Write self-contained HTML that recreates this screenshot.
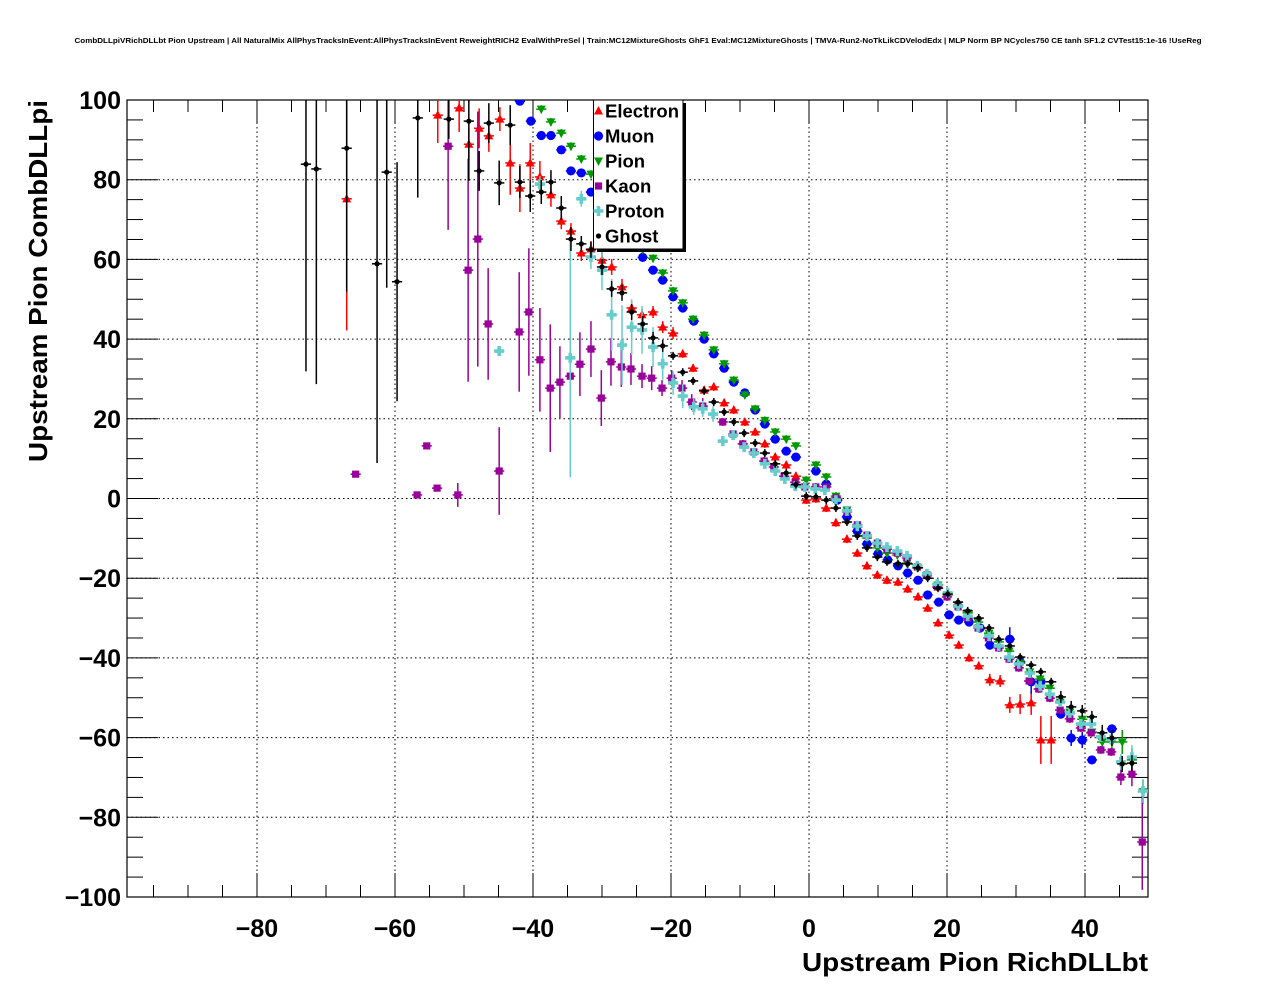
<!DOCTYPE html>
<html><head><meta charset="utf-8"><style>
html,body{margin:0;padding:0;background:#fff;}
svg{display:block;font-family:"Liberation Sans",Arial,sans-serif;}
</style></head><body>
<svg id="chart" width="1276" height="996" viewBox="0 0 1276 996" xmlns="http://www.w3.org/2000/svg">
<rect x="0" y="0" width="1276" height="996" fill="#fff"/>
<text x="638" y="43" text-anchor="middle" font-size="7.5" font-weight="bold" textLength="1127" lengthAdjust="spacingAndGlyphs">CombDLLpiVRichDLLbt Pion Upstream | All NaturalMix AllPhysTracksInEvent:AllPhysTracksInEvent ReweightRICH2 EvalWithPreSel | Train:MC12MixtureGhosts GhF1 Eval:MC12MixtureGhosts | TMVA-Run2-NoTkLikCDVelodEdx | MLP Norm BP NCycles750 CE tanh SF1.2 CVTest15:1e-16 !UseReg</text>
<defs><clipPath id="pc"><rect x="127" y="100" width="1021" height="797"/></clipPath></defs>
<g id="grid"></g>
<g id="axes"></g>
<g id="marks" clip-path="url(#pc)"></g>
<g id="legend"></g>
<text x="1148" y="971" text-anchor="end" font-size="26" font-weight="bold" textLength="346" lengthAdjust="spacingAndGlyphs">Upstream Pion RichDLLbt</text>
<text transform="translate(47,462) rotate(-90)" x="0" y="0" text-anchor="start" font-size="26" font-weight="bold" textLength="362" lengthAdjust="spacingAndGlyphs">Upstream Pion CombDLLpi</text>
</svg>
<script>
const xTicks = [-80,-60,-40,-20,0,20,40];
const yTicks = [-100,-80,-60,-40,-20,0,20,40,60,80,100];
const seriesNames = ["Electron","Muon","Pion","Kaon","Proton","Ghost"];
const elecX = [-67.0,-53.8,-50.7,-49.3,-47.8,-46.4,-44.8,-43.3,-41.9,-40.4,-39.0,-37.4,-35.9,-34.5,-33.0,-31.6,-30.0,-28.6,-27.1,-25.7,-24.2,-22.6,-21.2,-19.7,-18.3,-16.8,-15.2,-13.8,-12.3,-10.9,-9.3,-7.8,-6.4,-4.9,-3.3,-1.9,-0.4,1.0,2.5,3.9,5.5,7.0,8.4,9.9,11.3,12.9,14.3,15.8,17.2,18.7,20.3,21.7,23.2,24.6,26.2,27.7,29.1,30.6,32.2,33.6,35.1];
const elecY = [75.2,96.2,98.0,88.9,92.9,91.0,95.2,84.2,77.9,84.2,80.7,76.2,69.6,67.1,61.6,62.6,59.8,58.1,53.1,47.8,46.1,46.8,43.0,41.5,36.3,32.7,27.2,28.0,24.0,22.2,19.2,16.7,13.7,10.4,8.4,5.6,-0.4,-0.1,-2.4,-6.1,-10.2,-13.7,-16.9,-19.2,-20.5,-21.0,-22.7,-24.7,-27.5,-31.2,-34.3,-36.8,-40.0,-42.0,-45.5,-45.8,-51.8,-51.6,-51.3,-60.6,-60.6];
const elecE = [33,7,6,4,5,4,3,8,6,5,4,3,2,2,2,2,2,2,2,2,1.5,1.5,1.5,1.5,1,1,1,1,1,1,1,1,1,1,1,1,1,1,1,1,1,1,1,1,1,1,1,1,1,1,1,1,1,1,1.5,1.5,2,2.5,3,6,6];
const muonX = [-41.9,-40.3,-38.8,-37.4,-35.9,-34.5,-33.0,-31.6,-30.1,-28.6,-27.1,-25.7,-24.1,-22.6,-21.2,-19.7,-18.3,-16.7,-15.2,-13.8,-12.3,-10.9,-9.3,-7.8,-6.4,-4.9,-3.3,-1.9,1.0,2.5,4.1,5.5,7.0,8.4,10.0,11.4,12.9,14.3,15.8,17.2,18.8,20.3,21.7,23.2,24.8,26.2,29.1,30.6,32.2,33.6,36.5,38.0,39.6,41.0,43.9];
const muonY = [99.7,94.7,91.1,91.1,87.5,82.2,81.7,76.9,73.6,70,67,64,60.5,57.3,54.8,50.6,47.8,44.5,40.0,36.3,32.7,29.2,26.5,22.2,18.7,14.9,11.9,10.4,6.9,3.6,-0.4,-4.6,-8.2,-11.4,-13.9,-15.4,-16.9,-18.7,-20.5,-24.2,-26.0,-29.2,-30.5,-31.0,-32.5,-36.8,-35.3,-41.0,-46.0,-46.0,-54.1,-60.1,-60.6,-65.6,-57.8];
const muonE = [1,1,1,1,1,1,1,1,1,1,1,1,1,1,1,1,1,1,1,1,1,1,1,1,1,1,1,1,1,1,1,1,1,1,1,1,1,1,1,1,1,1,1,1,1,1,3,1,3,2,1,2,2,1,1];
const pionX = [-38.8,-37.4,-35.9,-34.5,-33.0,-31.6,-30.1,-28.6,-27.1,-25.7,-24.1,-22.6,-21.2,-19.7,-18.3,-16.8,-15.2,-13.8,-12.3,-10.9,-9.3,-7.8,-6.4,-4.9,-3.3,-1.9,-0.4,1.0,2.5,3.9,5.5,7.0,8.4,9.9,11.3,12.8,14.2,15.7,17.1,18.7,20.1,21.6,23.0,24.5,26.1,27.5,29.0,30.6,32.0,33.5,34.9,36.4,37.8,39.6,41.0,42.5,43.9,45.4,46.8,48.4];
const pionY = [97.7,94.5,91.7,88.4,85.2,81.4,77,73,69,65.5,62.5,60.3,56.6,52.1,49.1,45,41.0,37.3,33.8,29.7,26,22.5,19.6,16.7,14.9,13.2,4.6,8.4,5.4,0.6,-2.9,-7.2,-9.9,-12.4,-13.7,-14.2,-16.2,-17.4,-19.4,-21.7,-24.2,-26.7,-28.7,-31.0,-33.8,-36.0,-38.3,-41.3,-43.5,-45.3,-47.6,-51.1,-53.6,-55.4,-58.6,-61.1,-61.1,-61.1,-65.6,-73.6];
const pionE = [1,1,1,1,1,1,1,1,1,1,1,1,1,1,1,1,1,1,1,1,1,1,1,1,1,1,1,1,1,1,1,1,1,1,1,1,1,1,1,1,1,1,1,1,1,1,1,1,1,1,1,1,1,1,1,1,2,3,3,3];
const kaonX = [-65.7,-56.8,-55.4,-53.9,-52.3,-50.9,-49.4,-48.0,-46.5,-44.9,-42.0,-40.6,-39.0,-37.5,-36.1,-34.6,-33.2,-31.6,-30.1,-28.7,-27.2,-25.8,-24.2,-22.8,-21.3,-19.9,-18.4,-17.0,-15.4,-12.5,-11.0,-9.6,-8.0,-6.5,-5.1,-3.6,-2.0,-0.6,1.0,2.5,3.9,5.5,7.0,8.4,9.9,11.3,12.8,14.2,15.7,17.1,18.6,20.0,21.6,23.0,24.5,26.0,27.5,29.0,30.4,31.9,33.3,34.9,36.4,37.8,39.4,40.9,42.3,43.8,45.2,46.8,48.3];
const kaonY = [6.1,0.9,13.2,2.6,88.4,0.9,57.3,65.1,43.8,6.9,41.8,46.8,34.8,27.7,29.2,30.7,33.7,37.5,25.2,34.3,33.0,32.5,30.7,30.2,27.7,30.2,27.7,24.2,23.2,19.2,16.2,13.7,11.7,9.4,7.9,5.6,4.1,2.9,2.9,2.9,0.1,-3.4,-6.6,-9.2,-11.2,-12.7,-13.7,-14.9,-17.2,-19.2,-22.2,-24.7,-27.2,-30.0,-32.5,-35.0,-37.5,-40.3,-42.5,-45.8,-47.8,-50.1,-53.1,-55.3,-57.6,-58.8,-63.1,-63.6,-69.9,-69.2,-86.2];
const kaonE = [0.5,0.5,0.5,0.5,21,3,28,32,14,11,15,16,13,16,9,10,8,7,7,6,5,4,3,3,2,2,2,2,2,1,1,1,1,1,1,1,1,1,1,1,1,1,1,1,1,1,1,1,1,1,1,1,1,1,1,1,1,1,1,1,1,1,1,1,1,1,1,1,2,3,12];
const protX = [-44.9,-39.0,-34.6,-33.0,-31.6,-30.0,-28.6,-27.1,-25.7,-24.2,-22.6,-21.2,-19.7,-18.3,-16.7,-15.4,-13.9,-12.5,-11.0,-9.4,-8.0,-6.4,-4.9,-3.5,-2.0,-0.6,0.9,2.3,3.9,5.5,7.0,8.4,9.9,11.3,12.8,14.2,15.7,17.1,18.6,20.1,21.6,23.0,24.5,26.1,27.5,29.0,30.4,32.0,33.5,34.9,36.4,37.8,39.4,40.9,42.3,43.8,45.2,46.8,48.4];
const protY = [37.0,78.9,35.3,75.2,60.6,57.3,46.1,38.5,43.0,42.3,38.0,33.8,29.0,25.7,23.0,22.5,21.2,14.4,15.9,12.9,11.4,8.7,6.9,4.9,3.1,2.9,2.4,2.1,-0.4,-3.1,-6.9,-9.4,-11.2,-12.2,-13.2,-14.4,-16.9,-18.9,-21.5,-23.7,-27.0,-29.5,-32.2,-34.5,-37.0,-39.8,-41.5,-43.8,-47.1,-49.1,-51.1,-53.8,-56.6,-56.6,-59.8,-60.4,-66.1,-64.9,-73.4];
const protE = [1,2,30,2,3,5,9,10,7,6,5,4,3,3,2,2,2,1,1,1,1,1,1,1,1,1,1,1,1,1,1,1,1,1,1,1,1,1,1,1,1,1,1,1,1,1,1,1,1,1,1,1,1,1,1,1,2,3,3];
const ghostX = [-72.9,-71.4,-67.0,-62.6,-61.2,-59.7,-56.7,-52.2,-49.3,-47.8,-46.4,-44.9,-43.3,-41.9,-40.4,-38.8,-37.4,-35.9,-34.5,-33.0,-31.6,-30.0,-28.6,-27.1,-25.7,-24.1,-22.6,-21.2,-19.7,-18.3,-16.8,-15.2,-13.8,-12.3,-10.9,-9.4,-7.8,-6.4,-4.9,-3.3,-1.9,-0.4,1.0,2.5,3.9,5.5,7.0,8.4,9.9,11.3,12.9,14.3,15.8,17.2,18.7,20.1,21.6,23.0,24.6,26.1,27.5,29.1,30.6,32.2,33.6,35.1,36.5,38.0,39.6,41.0,42.5,43.9,45.4,46.8];
const ghostY = [83.9,82.7,87.9,58.9,81.9,54.4,95.5,95.2,94.7,82.2,94.2,79.2,93.7,79.4,75.9,76.9,79.4,72.9,65.1,63.9,62.4,58.1,52.6,51.6,46.8,43.8,40.3,38.3,35.8,31.7,29.5,27.0,24.2,21.7,19.2,16.4,13.9,11.4,8.7,6.4,3.5,0.6,0.4,-0.4,-2.4,-5.9,-9.4,-12.4,-14.7,-15.9,-16.4,-16.4,-17.4,-20.0,-22.5,-24.0,-26.0,-28.2,-30.0,-32.5,-35.3,-37.0,-39.8,-41.8,-43.5,-46.0,-49.8,-52.3,-53.3,-54.8,-58.8,-60.1,-66.6,-66.4];
const ghostE = [52,54,36,50,29,30,20,5,15,5,5,5.6,5,4,4,3,3,3,3,2,2,2,2,2,2,2,1.5,1.5,1,1,1,1,1,1,1,1,1,1,1,1,1,1,1,1,1,1,1,1,1,1,1,1,1,1,1,1,1,1,1,1,1,1,1,1,1,1,1.5,1.5,1.5,1.5,2,2,2,2];

const NS="http://www.w3.org/2000/svg";
const PL=127, PR=1148, PT=100, PB=897;
const XMIN=-98.84, XMAX=49.13, YMIN=-100, YMAX=100;
const HALFBIN=0.74;
function sx(v){return PL+(v-XMIN)/(XMAX-XMIN)*(PR-PL);}
function sy(v){return PB-(v-YMIN)/(YMAX-YMIN)*(PB-PT);}
function mk(tag,attrs,parent){const e=document.createElementNS(NS,tag);for(const k in attrs)e.setAttribute(k,attrs[k]);parent.appendChild(e);return e;}
const grid=document.getElementById('grid'), axes=document.getElementById('axes'), marks=document.getElementById('marks'), legend=document.getElementById('legend');

xTicks.forEach(t=>{const l=mk('line',{x1:sx(t),x2:sx(t),y1:PT,y2:PB,stroke:'#000','stroke-width':1,'stroke-dasharray':'1.5,3'},grid);

});
yTicks.forEach(t=>{const l=mk('line',{x1:PL,x2:PR,y1:sy(t),y2:sy(t),stroke:'#000','stroke-width':1,'stroke-dasharray':'1.5,3'},grid);

});

const fr=mk('rect',{x:PL,y:PT,width:PR-PL,height:PB-PT,fill:'none',stroke:'#000','stroke-width':1.2},axes);



for(let v=-95; v<=45; v+=5){
  const major = (v%20===0);
  const len = major?24:12;
  const x=sx(v);
  const t1=mk('line',{x1:x,x2:x,y1:PB,y2:PB-len,stroke:'#000','stroke-width':1},axes);
  
  
  const t2=mk('line',{x1:x,x2:x,y1:PT,y2:PT+len,stroke:'#000','stroke-width':1},axes);
  
  
}
xTicks.forEach(t=>{const tx=mk('text',{x:sx(t),y:937,'text-anchor':'middle','font-size':25,'font-weight':'bold'},axes);
tx.textContent=(t<0?'\u2212'+(-t):''+t);

});
for(let v=-100; v<=100; v+=5){
  const major=(v%20===0);
  const len=major?31:16;
  const y=sy(v);
  const t1=mk('line',{x1:PL,x2:PL+len,y1:y,y2:y,stroke:'#000','stroke-width':1},axes);
  
  
  const t2=mk('line',{x1:PR,x2:PR-len,y1:y,y2:y,stroke:'#000','stroke-width':1},axes);
  
  
}
yTicks.forEach(t=>{const tx=mk('text',{x:121,y:sy(t)+9,'text-anchor':'end','font-size':25,'font-weight':'bold'},axes);
tx.textContent=(t<0?'\u2212'+(-t):''+t);

});

function marker(kind,cx,cy,color,parent){
  let e;
  if(kind==='tu'){e=mk('polygon',{points:`${cx},${cy-5} ${cx-4.5},${cy+3.5} ${cx+4.5},${cy+3.5}`,fill:color},parent);}
  else if(kind==='td'){e=mk('polygon',{points:`${cx},${cy+5} ${cx-4.5},${cy-3.5} ${cx+4.5},${cy-3.5}`,fill:color},parent);}
  else if(kind==='c'){e=mk('circle',{cx:cx,cy:cy,r:4.6,fill:color},parent);}
  else if(kind==='s'){e=mk('rect',{x:cx-3.6,y:cy-3.6,width:7.2,height:7.2,fill:color},parent);}
  else if(kind==='p'){e=mk('path',{d:`M${cx-5},${cy}H${cx+5}M${cx},${cy-5}V${cy+5}`,stroke:color,'stroke-width':3.6,fill:'none'},parent);}
  else {e=mk('circle',{cx:cx,cy:cy,r:2.6,fill:color},parent);}
  return e;
}
const series=[
  {n:'electron',xs:elecX,ys:elecY,es:elecE,c:'#ff0000',k:'tu'},
  {n:'muon',xs:muonX,ys:muonY,es:muonE,c:'#0000ff',k:'c'},
  {n:'pion',xs:pionX,ys:pionY,es:pionE,c:'#009900',k:'td'},
  {n:'kaon',xs:kaonX,ys:kaonY,es:kaonE,c:'#990099',k:'s'},
  {n:'proton',xs:protX,ys:protY,es:protE,c:'#66cccc',k:'p'},
  {n:'ghost',xs:ghostX,ys:ghostY,es:ghostE,c:'#000000',k:'d'}
];
series.forEach(s=>{
  const g=mk('g',{},marks);
  
  
  for(let i=0;i<s.xs.length;i++){
    const cx=sx(s.xs[i]), cy=sy(s.ys[i]);
    const pg=mk('g',{},g);
    
    
    mk('line',{x1:sx(s.xs[i]-HALFBIN),x2:sx(s.xs[i]+HALFBIN),y1:cy,y2:cy,stroke:s.c,'stroke-width':1.5},pg);
    mk('line',{x1:cx,x2:cx,y1:sy(s.ys[i]+s.es[i]),y2:sy(s.ys[i]-s.es[i]),stroke:s.c,'stroke-width':1.5},pg);
    marker(s.k,cx,cy,s.c,pg);
  }
});

const lb=mk('rect',{x:597,y:103,width:89,height:149,fill:'#000'},legend);


const lbox=mk('rect',{x:593.5,y:100,width:89.5,height:149,fill:'#fff',stroke:'#000','stroke-width':1},legend);


series.forEach((s,i)=>{
  const y=111+i*25;
  const eg=mk('g',{},legend);
  
  
  marker(s.k,598.5,y,s.c,eg);
  const t=mk('text',{x:605,y:y+6.5,'font-size':18.5,'font-weight':'bold'},eg);
  t.textContent=seriesNames[i];
});
</script>
</body></html>
